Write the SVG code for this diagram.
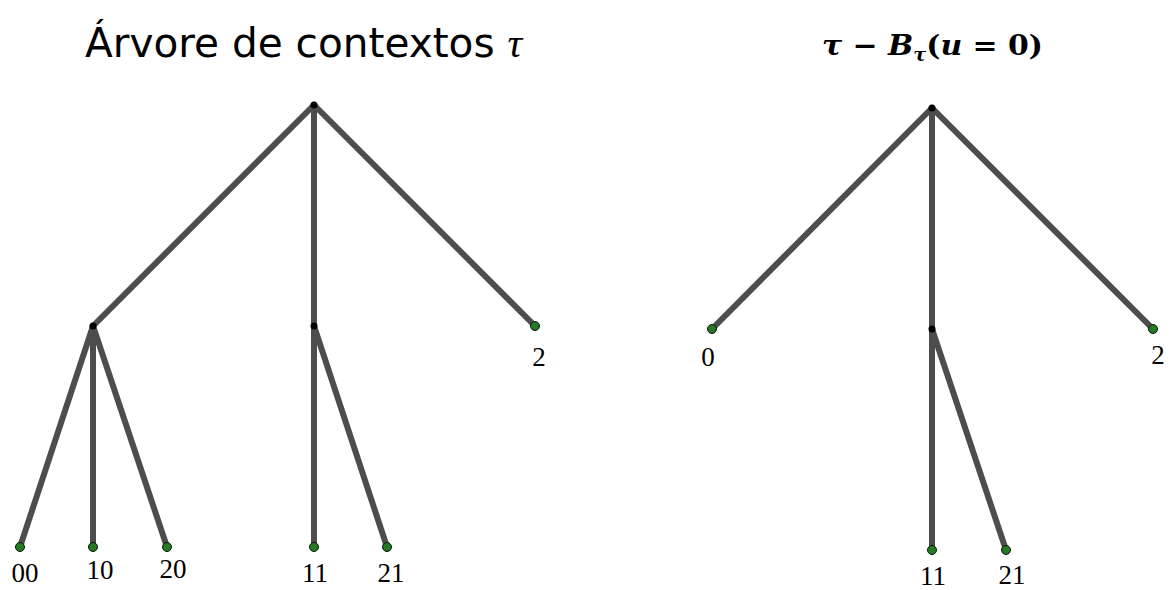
<svg xmlns="http://www.w3.org/2000/svg" width="1171" height="590" viewBox="0 0 1171 590">
<style>
.e{stroke:#4d4d4d;stroke-width:6;stroke-linecap:round;fill:none}
.leaf{fill:#237a23;stroke:#111;stroke-width:1}
.in{fill:#000}
.lbl{font-family:"Liberation Serif",serif;font-size:27px;fill:#000;text-anchor:middle}
</style>
<rect width="1171" height="590" fill="#fff"/>
<text x="85" y="57" font-family="'DejaVu Sans','Liberation Sans',sans-serif" font-size="40" fill="#000" textLength="437" lengthAdjust="spacingAndGlyphs">Árvore de contextos <tspan font-family="'Liberation Serif',serif" font-style="italic">τ</tspan></text>
<text x="822" y="55" font-family="'DejaVu Serif','Liberation Serif',serif" font-size="28" font-weight="bold" font-style="italic" fill="#000" textLength="221" lengthAdjust="spacingAndGlyphs">τ <tspan font-style="normal">−</tspan> B<tspan font-size="18" dy="6">τ</tspan><tspan dy="-6" font-style="normal">(</tspan>u <tspan font-style="normal">= 0)</tspan></text>
<g id="connectors">
<line class="e" x1="314" y1="105" x2="93" y2="326"/>
<line class="e" x1="314" y1="105" x2="314" y2="326"/>
<line class="e" x1="314" y1="105" x2="535" y2="326"/>
<line class="e" x1="93" y1="326" x2="20" y2="547"/>
<line class="e" x1="93" y1="326" x2="93" y2="547"/>
<line class="e" x1="93" y1="326" x2="167" y2="547"/>
<line class="e" x1="314" y1="326" x2="314" y2="547"/>
<line class="e" x1="314" y1="326" x2="387" y2="547"/>
<line class="e" x1="932" y1="108" x2="712" y2="329"/>
<line class="e" x1="932" y1="108" x2="932" y2="329"/>
<line class="e" x1="932" y1="108" x2="1153" y2="329"/>
<line class="e" x1="932" y1="329" x2="932" y2="550"/>
<line class="e" x1="932" y1="329" x2="1006" y2="550"/>
</g>
<g id="n_root1"><circle class="in" cx="314" cy="105" r="3.5"/></g>
<g id="n_0"><circle class="in" cx="93" cy="326" r="3.5"/></g>
<g id="n_1"><circle class="in" cx="314" cy="326" r="3.5"/></g>
<g id="n_2"><circle class="leaf" cx="535" cy="326" r="4.5"/><text class="lbl" x="539" y="366">2</text></g>
<g id="n_00"><circle class="leaf" cx="20" cy="547" r="4.5"/><text class="lbl" x="25" y="582">00</text></g>
<g id="n_10"><circle class="leaf" cx="93" cy="547" r="4.5"/><text class="lbl" x="100" y="579">10</text></g>
<g id="n_20"><circle class="leaf" cx="167" cy="547" r="4.5"/><text class="lbl" x="173" y="578">20</text></g>
<g id="n_11"><circle class="leaf" cx="314" cy="547" r="4.5"/><text class="lbl" x="315" y="582">11</text></g>
<g id="n_21"><circle class="leaf" cx="387" cy="547" r="4.5"/><text class="lbl" x="391" y="582">21</text></g>
<g id="m_root"><circle class="in" cx="932" cy="108" r="3.5"/></g>
<g id="m_0"><circle class="leaf" cx="712" cy="329" r="4.5"/><text class="lbl" x="708" y="366">0</text></g>
<g id="m_1"><circle class="in" cx="932" cy="329" r="3.5"/></g>
<g id="m_2"><circle class="leaf" cx="1153" cy="329" r="4.5"/><text class="lbl" x="1158" y="364">2</text></g>
<g id="m_11"><circle class="leaf" cx="932" cy="550" r="4.5"/><text class="lbl" x="933" y="585">11</text></g>
<g id="m_21"><circle class="leaf" cx="1006" cy="550" r="4.5"/><text class="lbl" x="1012" y="584">21</text></g>
</svg>
